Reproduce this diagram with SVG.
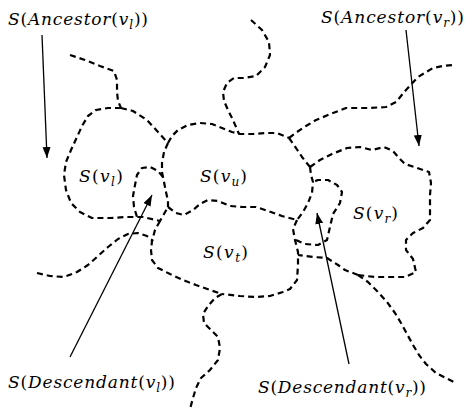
<svg xmlns="http://www.w3.org/2000/svg" width="476" height="409" viewBox="0 0 476 409">
<style>
.d{fill:none;stroke:#000;stroke-width:2.2;stroke-dasharray:6 4;stroke-linejoin:round;stroke-linecap:butt}
.a{fill:none;stroke:#000;stroke-width:1.3}
.t{font-family:'DejaVu Serif','Liberation Serif',serif;font-size:17px;fill:#000}
.i{font-style:italic}
.s{font-size:12px;font-style:italic}
</style>
<defs>
<marker id="ah" markerUnits="userSpaceOnUse" markerWidth="12" markerHeight="10" refX="11" refY="4" orient="auto">
<path d="M0,0 L11,4 L0,8 Z" fill="#000"/>
</marker>
</defs>
<rect width="476" height="409" fill="#fff"/>
<g id="connectors">
<path class="d" d="M70,55 L85,60 L100,66 L114,71 L117,80 L117,92 L118,101 L121,108"/>
<path class="d" d="M121,108 L133,111 L147,120 L158,132 L168,143"/>
<path class="d" d="M121,108 L108,108 L96,110 L88,116 L82,126 L77,137 L71,150 L66,162 L64,175 L66,190 L71,203 L80,212 L92,218 L110,218 L127,217 L143,217 L160,221 L168,207"/>
<path class="d" d="M168,143 L164,152 L162,163 L162,172 L164,182 L166,192 L168,201 L168,207"/>
<path class="d" d="M168,143 L172,136 L178,130 L188,125 L200,123 L212,124 L222,128 L232,132 L240,134 L253,134 L265,133 L277,133 L289,138"/>
<path class="d" d="M251,20 L262,30 L269,42 L270,55 L265,67 L256,76 L244,78 L234,78 L227,83 L223,92 L224,101 L228,110 L233,120 L236,127 L239,134"/>
<path class="d" d="M289,138 L297,132 L306,126 L316,120 L333,113 L346,108 L369,108 L386,107 L396,102 L406,90 L418,77 L433,68 L443,66 L453,65"/>
<path class="d" d="M289,138 L296,148 L302,157 L310,167"/>
<path class="d" d="M310,167 L320,160 L332,154 L347,148 L360,147 L372,150 L384,147 L393,151 L399,158 L405,164 L417,168 L429,172 L431,183 L430,195 L430,207 L430,220 L423,228 L413,233 L406,240 L406,250 L413,259 L416,272 L405,277 L393,277 L376,277 L366,276 L358,275"/>
<path class="d" d="M358,275 L345,270 L338,265 L327,258 L313,257 L298,255"/>
<path class="d" d="M358,275 L368,282 L378,292 L387,302 L395,313 L401,323 L407,334 L413,345 L419,355 L426,364 L436,373 L446,378 L456,383"/>
<path class="d" d="M310,167 L311,175 L313,182 L312,193 L308,203 L303,212 L297,220"/>
<path class="d" d="M297,220 L293,229 L295,240 L298,252 L298,265 L297,280 L290,289 L283,292 L270,296 L255,297 L240,296 L222,294"/>
<path class="d" d="M296,240 L305,244 L318,245 L327,240 L330,227 L333,214 L340,203 L342,192 L337,185 L328,180 L318,180 L313,182"/>
<path class="d" d="M168,207 L176,213 L184,215 L193,210 L200,204 L208,200 L218,201 L230,206 L243,207 L256,207 L268,211 L282,216 L297,220"/>
<path class="d" d="M160,221 L155,230 L152,241 L151,250 L152,260 L158,268 L170,274 L183,280 L196,285 L210,290 L222,294"/>
<path class="d" d="M163,177 L158,171 L150,167 L142,168 L137,175 L135,185 L133,196 L134,207 L137,217"/>
<path class="d" d="M37,273 L50,276 L64,277 L77,272 L88,265 L98,256 L108,247 L118,239 L128,234 L138,233 L147,236 L153,241"/>
<path class="d" d="M222,294 L215,298 L208,306 L203,314 L204,323 L211,330 L218,337 L220,348 L218,360 L210,370 L201,378 L196,388 L193,398 L190,409"/>
<path class="a" marker-end="url(#ah)" d="M42,35 L47,158"/>
<path class="a" marker-end="url(#ah)" d="M406,30 L419,146"/>
<path class="a" marker-end="url(#ah)" d="M70,357 L152,195"/>
<path class="a" marker-end="url(#ah)" d="M349,364 L317,213"/>
</g>
<g id="anc_l"><text class="t" x="8" y="25" textLength="140"><tspan class="i">S</tspan>(<tspan class="i">Ancestor</tspan>(<tspan class="i">v</tspan><tspan class="s" dy="4">l</tspan><tspan dy="-4">))</tspan></text></g>
<g id="anc_r"><text class="t" x="321" y="23" textLength="143"><tspan class="i">S</tspan>(<tspan class="i">Ancestor</tspan>(<tspan class="i">v</tspan><tspan class="s" dy="4">r</tspan><tspan dy="-4">))</tspan></text></g>
<g id="vl"><text class="t" x="79" y="182" textLength="44"><tspan class="i">S</tspan>(<tspan class="i">v</tspan><tspan class="s" dy="4">l</tspan><tspan dy="-4">)</tspan></text></g>
<g id="vu"><text class="t" x="200" y="182" textLength="47"><tspan class="i">S</tspan>(<tspan class="i">v</tspan><tspan class="s" dy="4">u</tspan><tspan dy="-4">)</tspan></text></g>
<g id="vt"><text class="t" x="203" y="258" textLength="45"><tspan class="i">S</tspan>(<tspan class="i">v</tspan><tspan class="s" dy="4">t</tspan><tspan dy="-4">)</tspan></text></g>
<g id="vr"><text class="t" x="353" y="219" textLength="45"><tspan class="i">S</tspan>(<tspan class="i">v</tspan><tspan class="s" dy="4">r</tspan><tspan dy="-4">)</tspan></text></g>
<g id="desc_l"><text class="t" x="8" y="388" textLength="167"><tspan class="i">S</tspan>(<tspan class="i">Descendant</tspan>(<tspan class="i">v</tspan><tspan class="s" dy="4">l</tspan><tspan dy="-4">))</tspan></text></g>
<g id="desc_r"><text class="t" x="258" y="393" textLength="168"><tspan class="i">S</tspan>(<tspan class="i">Descendant</tspan>(<tspan class="i">v</tspan><tspan class="s" dy="4">r</tspan><tspan dy="-4">))</tspan></text></g>
</svg>
